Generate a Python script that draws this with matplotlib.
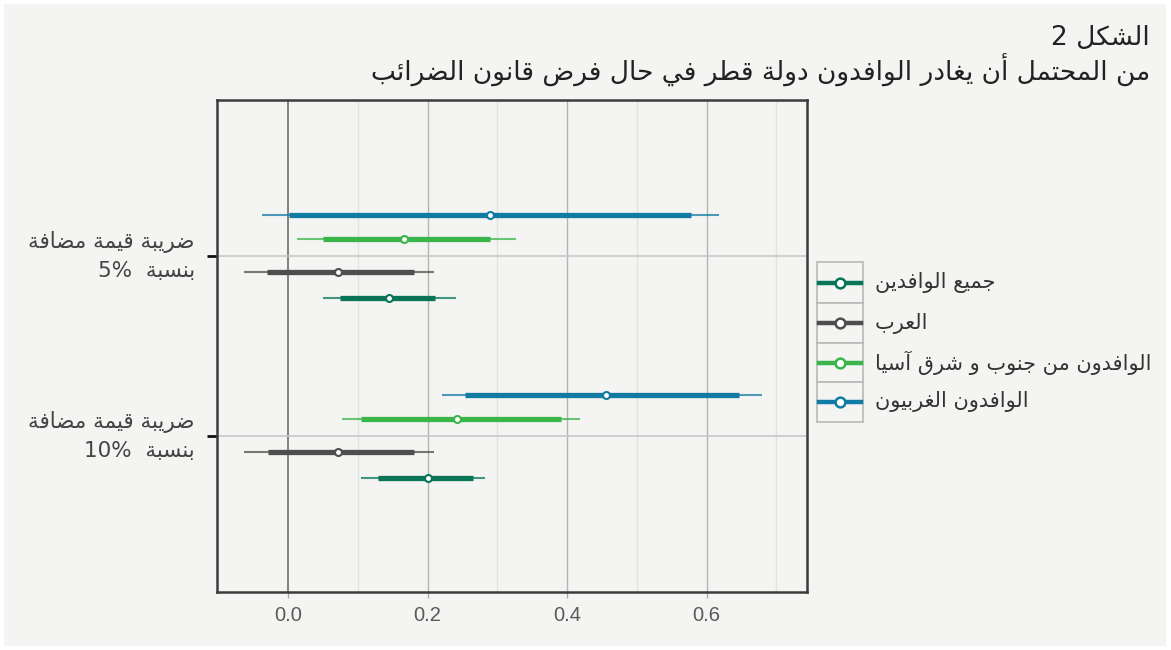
import matplotlib
matplotlib.use("Agg")
import matplotlib.pyplot as plt
from matplotlib.patches import Rectangle
from matplotlib.lines import Line2D
import numpy as np

# ---------------------------------------------------------------- data
categories = ["ضريبة قيمة مضافة\nبنسبة  5%", "ضريبة قيمة مضافة\nبنسبة  10%"]
series = ["جميع الوافدين", "العرب", "الوافدون من جنوب و شرق آسيا", "الوافدون الغربيون"]
colors = ["#087556", "#4e4e4e", "#3ab54a", "#127ba3"]

# point estimates, 90% (thick) and 95% (thin) intervals; one row per series,
# columns follow the order of `categories`
estimate = [[0.145, 0.200], [0.072, 0.072], [0.166, 0.242], [0.289, 0.456]]
inner_lo = [[0.074, 0.129], [-0.030, -0.029], [0.050, 0.105], [0.001, 0.253]]
inner_hi = [[0.211, 0.265], [0.180, 0.181], [0.290, 0.391], [0.577, 0.646]]
outer_lo = [[0.050, 0.105], [-0.064, -0.063], [0.012, 0.077], [-0.037, 0.220]]
outer_hi = [[0.240, 0.283], [0.209, 0.209], [0.327, 0.418], [0.618, 0.679]]

title_1 = "الشكل 2"
title_2 = "من المحتمل أن يغادر الوافدون دولة قطر في حال فرض قانون الضرائب"
x_ticks = [0.0, 0.2, 0.4, 0.6]

# ---------------------------------------------------------------- arabic shaping
# (isolated base code point, number of forms: 2 = right-joining, 4 = dual-joining)
_FORMS = {
    "ء": (0xFE80, 1), "آ": (0xFE81, 2), "أ": (0xFE83, 2), "ؤ": (0xFE85, 2),
    "إ": (0xFE87, 2), "ئ": (0xFE89, 4), "ا": (0xFE8D, 2), "ب": (0xFE8F, 4),
    "ة": (0xFE93, 2), "ت": (0xFE95, 4), "ث": (0xFE99, 4), "ج": (0xFE9D, 4),
    "ح": (0xFEA1, 4), "خ": (0xFEA5, 4), "د": (0xFEA9, 2), "ذ": (0xFEAB, 2),
    "ر": (0xFEAD, 2), "ز": (0xFEAF, 2), "س": (0xFEB1, 4), "ش": (0xFEB5, 4),
    "ص": (0xFEB9, 4), "ض": (0xFEBD, 4), "ط": (0xFEC1, 4), "ظ": (0xFEC5, 4),
    "ع": (0xFEC9, 4), "غ": (0xFECD, 4), "ف": (0xFED1, 4), "ق": (0xFED5, 4),
    "ك": (0xFED9, 4), "ل": (0xFEDD, 4), "م": (0xFEE1, 4), "ن": (0xFEE5, 4),
    "ه": (0xFEE9, 4), "و": (0xFEED, 2), "ى": (0xFEEF, 2), "ي": (0xFEF1, 4),
}
_LAM_ALEF = {"ا": 0xFEFB, "آ": 0xFEF5, "أ": 0xFEF7, "إ": 0xFEF9}


def _shape(text):
    out = []
    i = 0
    n = len(text)
    while i < n:
        ch = text[i]
        if ch not in _FORMS:
            out.append(ch)
            i += 1
            continue
        prev = text[i - 1] if i > 0 else ""
        joins_prev = prev in _FORMS and _FORMS[prev][1] == 4
        if ch == "ل" and i + 1 < n and text[i + 1] in _LAM_ALEF:
            base = _LAM_ALEF[text[i + 1]]
            out.append(chr(base + (1 if joins_prev else 0)))
            i += 2
            continue
        base, kind = _FORMS[ch]
        nxt = text[i + 1] if i + 1 < n else ""
        joins_next = kind == 4 and nxt in _FORMS
        if kind == 1:
            form = 0
        elif joins_prev and joins_next:
            form = 3
        elif joins_prev:
            form = 1
        elif joins_next:
            form = 2
        else:
            form = 0
        out.append(chr(base + form))
        i += 1
    return "".join(out)


def _is_ltr(ch):
    return ch.isdigit() or ch in "%.," or ("a" <= ch.lower() <= "z")


def rtl(text):
    lines = []
    for line in text.split("\n"):
        shaped = _shape(line)
        runs, cur, cur_ltr = [], "", None
        for ch in shaped:
            is_ltr = _is_ltr(ch)
            if cur and is_ltr != cur_ltr:
                runs.append((cur, cur_ltr))
                cur = ""
            cur += ch
            cur_ltr = is_ltr
        if cur:
            runs.append((cur, cur_ltr))
        visual = "".join(r if ltr else r[::-1] for r, ltr in reversed(runs))
        lines.append(visual)
    return "\n".join(lines)


# ---------------------------------------------------------------- figure
plt.rcParams["font.family"] = ["DejaVu Sans"]
W, H = 1171, 650
fig = plt.figure(figsize=(W / 100, H / 100), dpi=100, facecolor="white")
fig.patches.append(Rectangle((4 / W, 4 / H), 1 - 9 / W, 1 - 8 / H,
                             transform=fig.transFigure, facecolor="#f4f4f2",
                             edgecolor="none", zorder=-10))

ax = fig.add_axes([217 / W, 1 - 592 / H, (807 - 217) / W, (592 - 100) / H])
ax.set_facecolor("#f4f4f2")

# vertical placement: categories at y = 1 (5%) and y = 0 (10%)
cat_y = np.array([1.0, 0.0])
offsets = [-0.236, -0.089, 0.094, 0.228]

ax.set_xlim(-0.102, 0.744)
ax.set_ylim(-0.867, 1.867)

# grid
for xv in [0.1, 0.3, 0.5, 0.7]:
    ax.axvline(xv, color="#e2e2e0", lw=1.0, zorder=0)
for xv in x_ticks:
    ax.axvline(xv, color="#777777" if xv == 0 else "#b4b4b4",
               lw=1.3 if xv == 0 else 1.0, zorder=0)
for yv in cat_y:
    ax.axhline(yv, color="#c8c8c8", lw=1.2, zorder=0)

for s in range(len(series)):
    ys = cat_y + offsets[s]
    c = colors[s]
    ax.hlines(ys, outer_lo[s], outer_hi[s], color=c, lw=1.5, alpha=0.75, zorder=2)
    ax.hlines(ys, inner_lo[s], inner_hi[s], color=c, lw=3.8, zorder=3)
    ax.plot(estimate[s], ys, ls="none", marker="o", ms=5, mfc="white",
            mec=c, mew=1.5, zorder=4)

ax.set_xticks(x_ticks)
ax.set_xticklabels([f"{v:.1f}" for v in x_ticks], family="Liberation Sans")
ax.tick_params(axis="x", length=4, width=1, color="#aaaaaa", pad=6,
               labelsize=14.5, labelcolor="#5a5a5a")
ax.set_yticks(cat_y)
ax.set_yticklabels([])
ax.tick_params(axis="y", length=7, width=2, color="#111111")
for sp in ax.spines.values():
    sp.set_color("#3c3c3c")
    sp.set_linewidth(1.8)

# category labels (right aligned, to the left of the axis)
for yv, lab in zip(cat_y, categories):
    ax.annotate(rtl(lab), xy=(0, yv), xycoords=("axes fraction", "data"),
                xytext=(-16, 0), textcoords="offset points", ha="right",
                va="center", fontsize=15.5, color="#444444", linespacing=1.5)

# title
fig.text(1150 / W, 1 - 38 / H, rtl(title_1), ha="right", va="center",
         fontsize=19, color="#222222")
fig.text(1150 / W, 1 - 70 / H, rtl(title_2), ha="right", va="center",
         fontsize=19, color="#222222")

# legend: boxed keys, labels to the right
lax = fig.add_axes([0, 0, 1, 1], facecolor="none")
lax.set_xlim(0, W)
lax.set_ylim(H, 0)
lax.axis("off")
edges = [262, 303, 343, 382, 422]
for k, (name, c) in enumerate(zip(series, colors)):
    top, bot = edges[k], edges[k + 1]
    lax.add_patch(Rectangle((817, top), 46, bot - top, facecolor="#f4f4f2",
                            edgecolor="#b8b8b8", lw=1.2))
    yc = (top + bot) / 2
    lax.add_line(Line2D([819, 861], [yc, yc], color=c, lw=3.2))
    lax.plot([840], [yc], marker="o", ms=7, mfc="white", mec=c, mew=1.8)
    lax.text(875, yc, rtl(name), ha="left", va="center", fontsize=15,
             color="#333333")

fig.savefig("out.png", dpi=100, facecolor="white")
